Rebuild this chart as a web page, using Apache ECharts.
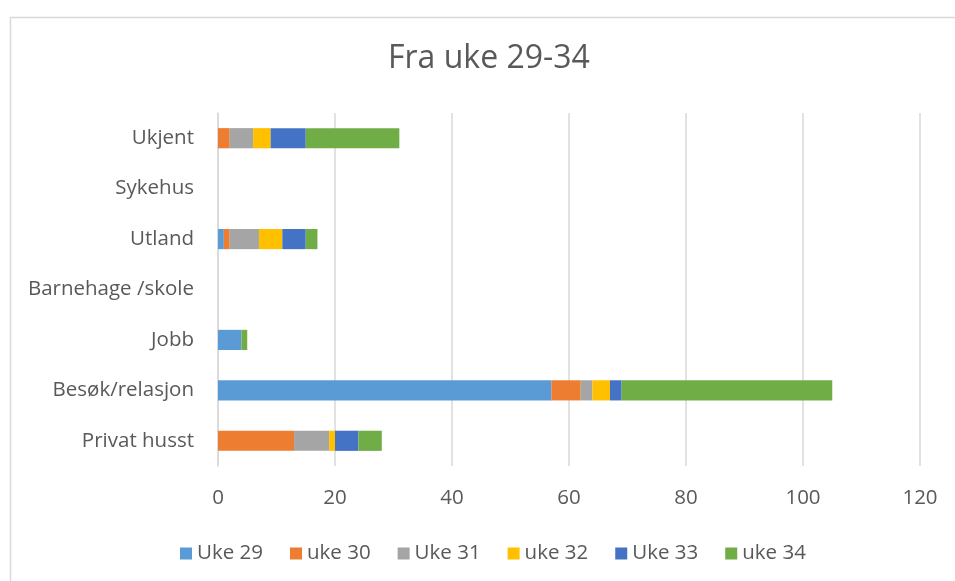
<!DOCTYPE html>
<html>
<head>
<meta charset="utf-8">
<script src="https://cdn.jsdelivr.net/npm/echarts@6/dist/echarts.min.js"></script>
<style>html,body{margin:0;padding:0;background:#fff;}#c{width:955px;height:581px;}</style>
</head>
<body>
<div id="c"></div>
<script>
const categories = ["Privat husst", "Besøk/relasjon", "Jobb", "Barnehage /skole", "Utland", "Sykehus", "Ukjent"];
const seriesNames = ["Uke 29", "uke 30", "Uke 31", "uke 32", "Uke 33", "uke 34"];
const uke29 = [0, 57, 4, 0, 1, 0, 0];
const uke30 = [13, 5, 0, 0, 1, 0, 2];
const uke31 = [6, 2, 0, 0, 5, 0, 4];
const uke32 = [1, 3, 0, 0, 4, 0, 3];
const uke33 = [4, 2, 0, 0, 4, 0, 6];
const uke34 = [4, 36, 1, 0, 2, 0, 16];
const xTicks = [0, 20, 40, 60, 80, 100, 120];
const colors = ["#5B9BD5", "#ED7D31", "#A5A5A5", "#FFC000", "#4472C4", "#70AD47"];

const values = [uke29, uke30, uke31, uke32, uke33, uke34];
const font = "'Open Sans', sans-serif";
const chart = echarts.init(document.getElementById('c'), null, {renderer: 'canvas'});
chart.setOption({
  animation: false,
  color: colors,
  title: {
    text: "Fra uke 29-34",
    left: 383,
    top: 38,
    textStyle: {fontFamily: font, fontSize: 32, fontWeight: 'normal', color: '#595959'}
  },
  graphic: [{
    type: 'rect', left: 8, top: 15, silent: true,
    shape: {width: 1000, height: 700},
    style: {fill: 'none', stroke: '#d9d9d9', lineWidth: 1.5}
  }],
  legend: {
    top: 538,
    left: 175,
    itemWidth: 12, itemHeight: 12, itemGap: 27,
    icon: 'rect',
    textStyle: {fontFamily: font, fontSize: 20.5, color: '#595959'},
    data: seriesNames
  },
  grid: {left: 218, right: 35, top: 113, bottom: 115, containLabel: false},
  xAxis: {
    type: 'value',
    min: xTicks[0], max: xTicks[xTicks.length - 1], interval: xTicks[1] - xTicks[0],
    axisLine: {show: false}, axisTick: {show: false},
    splitLine: {lineStyle: {color: '#d9d9d9', width: 1.5}},
    axisLabel: {fontFamily: font, fontSize: 20.5, color: '#595959', margin: 22}
  },
  yAxis: {
    type: 'category',
    data: categories,
    axisLine: {show: true, lineStyle: {color: '#d9d9d9', width: 1.5}},
    axisTick: {show: false},
    axisLabel: {fontFamily: font, fontSize: 20.5, color: '#595959', margin: 24}
  },
  series: seriesNames.map((n, i) => ({
    name: n, type: 'bar', stack: 'total', data: values[i],
    barCategoryGap: '60%'
  }))
});
</script>
</body>
</html>
